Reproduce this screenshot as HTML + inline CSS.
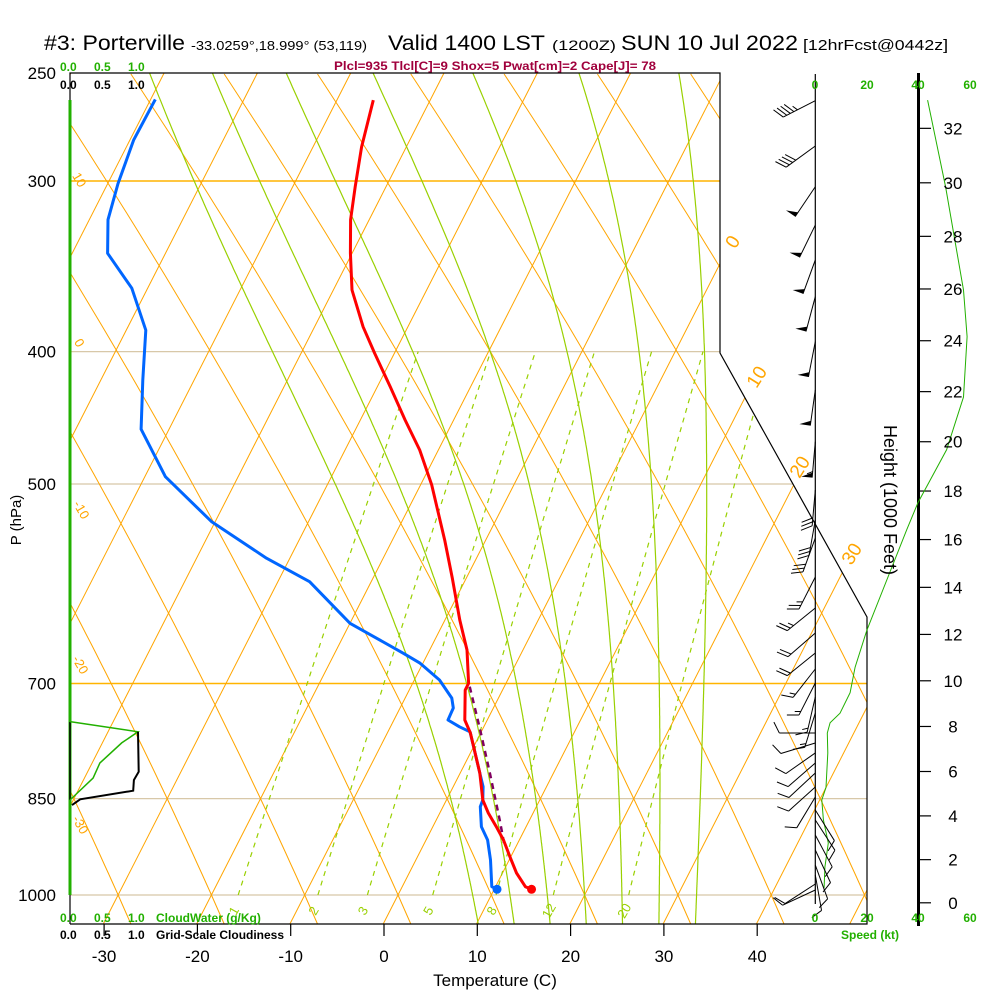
<!DOCTYPE html>
<html><head><meta charset="utf-8"><style>
html,body{margin:0;padding:0;background:#fff}
svg{display:block;font-family:"Liberation Sans",sans-serif}
</style></head><body>
<svg id="chart" width="1000" height="1000" viewBox="0 0 1000 1000" xmlns="http://www.w3.org/2000/svg">
<defs><clipPath id="plotclip"><polygon points="70,73 720,73 720,353 867,617 867,924 70,924"/></clipPath></defs>
<rect x="0" y="0" width="1000" height="1000" fill="#fff"/>
<g fill="#000">
<text x="44" y="50" font-size="21" textLength="141" lengthAdjust="spacingAndGlyphs">#3: Porterville</text>
<text x="191" y="50" font-size="13" textLength="176" lengthAdjust="spacingAndGlyphs">-33.0259°,18.999° (53,119)</text>
<text x="388" y="50" font-size="21" textLength="157" lengthAdjust="spacingAndGlyphs">Valid 1400 LST</text>
<text x="552" y="50" font-size="14" textLength="64" lengthAdjust="spacingAndGlyphs">(1200Z)</text>
<text x="621" y="50" font-size="21" textLength="177" lengthAdjust="spacingAndGlyphs">SUN 10 Jul 2022</text>
<text x="803" y="50" font-size="15" textLength="145" lengthAdjust="spacingAndGlyphs">[12hrFcst@0442z]</text>
</g>
<text x="334" y="70" font-size="12" font-weight="bold" fill="#a0003c" textLength="322" lengthAdjust="spacingAndGlyphs">Plcl=935 Tlcl[C]=9 Shox=5 Pwat[cm]=2 Cape[J]= 78</text>
<g id="grid" clip-path="url(#plotclip)"></g>
<g id="frame"></g>
<g id="data"></g>
<g id="labels"></g>
</svg>
<script>
// ---- chart data ----
const tempP=[261.7,283.2,302.9,320.2,338.7,360.5,383.6,401.2,424.5,448.9,472.2,500.8,549.6,586,629,661.6,699.8,707.8,744.5,760.9,787,814,852,870.9,891.2,911.4,937.4,963.6,986.1,990.4];
const tempT=[-46.1,-44.8,-43.3,-42.0,-40.2,-38.0,-34.8,-32.1,-28.6,-25.2,-22.0,-18.8,-14.4,-11.5,-8.4,-6.0,-4.0,-4.0,-2.4,-1.1,0.5,2.1,3.9,5.2,6.8,8.3,9.9,11.5,13.2,14.0];
const dewP=[261.4,279.9,301.3,320.2,338.9,359.4,385.8,419.6,455.9,493.9,532.8,566.7,589.6,632.4,665.4,676.4,695.9,717.5,729.5,744.5,753.0,759.4,778.7,805.5,833.1,852.0,861.7,891.2,911.4,942.7,986.1,990.4];
const dewT=[-69.5,-69.6,-68.9,-68.0,-66.2,-61.7,-57.9,-55.5,-53.0,-47.8,-40.4,-32.5,-26.6,-20.0,-12.6,-10.3,-7.3,-5.0,-4.3,-4.2,-2.6,-1.2,0.0,1.6,3.2,3.9,4.0,5.2,6.6,8.0,9.6,10.3];
const parcelP=[703.8,757.3,814.5,881.2,921.8];
const parcelT=[-3.7,-0.2,3.2,6.8,8.8];
const windP=[262,282.8,302.9,323.1,342.7,364.6,393.3,426.7,465.6,505.1,531.3,547.7,584.9,616.3,642.9,664.9,683.1,699.4,716.1,735.7,760.9,773.9,787.0,800.4,814.0,833.5,847.6,866.5,881.2,903.8,926.9,950.7,966.8,981.6,991.6];
const windDir=[243,234,214,206,200,195,191,188,185,185,190,200,207,231,229,231,218,207,193,197,270,253,235,229,227,228,211,148,147,152,155,160,170,237,245];
const windSpd=[45,40,50,50,50,50,50,50,55,30,30,30,25,25,20,20,15,15,15,15,10,10,10,10,10,10,10,10,10,10,10,10,10,10,10];
const speedP=[261.7,303,360.5,390,431.8,472,516,540,640,681,711,736,748,761,787,834,852,881,916,954,988];
const speedKt=[43.2,50.1,57.0,58.4,57.0,50.5,39.5,35.2,19.8,15.3,13.4,9.5,5.7,4.6,4.8,4.1,2.5,3.1,5.0,3.7,3.4];
const cloudP=[759.4,812.2,823.7,838.7,851,859.3];
const cloudFrac=[1.0,1.01,0.94,0.93,0.15,0.03];
const cwP=[746.4,759.4,773.7,800.4,820.9,852];
const cwVal=[0,1.0,0.76,0.44,0.34,0];
const pressTicks=[250,300,400,500,700,850,1000];
const tempTicks=[-30,-20,-10,0,10,20,30,40];
const heightTicks=[0,2,4,6,8,10,12,14,16,18,20,22,24,26,28,30,32];
const mixRatios=[1,2,3,5,8,12,20];
const moistThetaW=[8,12,16,20,24,28,32];

const NS="http://www.w3.org/2000/svg";
const Y=p=>895-593*Math.log(1000/p);
const X=(T,p)=>398+9.33*T+0.51*(895-Y(p));
const SX=k=>815.3+2.6*k;
const CX=v=>70+68*v;
function el(tag,attrs,parent){const e=document.createElementNS(NS,tag);for(const k in attrs)e.setAttribute(k,attrs[k]);parent.appendChild(e);return e;}
const grid=document.getElementById('grid'),frame=document.getElementById('frame'),data=document.getElementById('data'),labels=document.getElementById('labels');
function pl(pts){return pts.map(p=>p[0].toFixed(1)+','+p[1].toFixed(1)).join(' ');}

pressTicks.forEach(p=>{const y=Y(p);
 const hl=el('line',{x1:70,x2:900,y1:y,y2:y,stroke:(p==300||p==700)?'#ffb400':'#d8c8a8','stroke-width':(p==300||p==700)?1.5:1.2},grid);
 
 
 const t=el('text',{x:56,y:y+6,'font-size':17,'text-anchor':'end',fill:'#000'},labels);t.textContent=p;
 
 
});
for(let T=-140;T<=60;T+=10){const x1=398+9.33*T+0.51*(-29),x2=398+9.33*T+0.51*822;
 const l=el('line',{x1:x1,y1:924,x2:x2,y2:73,stroke:'#ffa500','stroke-width':1},grid);
 
 }
for(let n=-5;n<=14;n++){const x0=398+93.3*n;const pts=[];
 for(let u=-29;u<=822;u+=10){pts.push([x0-(0.4467*u+1.29e-4*u*u),895-u]);}
 const l=el('polyline',{points:pl(pts),fill:'none',stroke:'#ffa500','stroke-width':1},grid);
 
 }
function dTdp(T,p){const Tc=T-273.15;const es=6.112*Math.exp(17.67*Tc/(Tc+243.5));const rs=0.622*es/(p-es);
 return (287*T+2.5e6*rs)/(p*(1004+2.5e6*2.5e6*rs*0.622/(287*T*T)));}
moistThetaW.forEach(tw=>{const up=[];let T=tw+273.15;for(let p=1000;p>=245;p-=2){up.push([X(T-273.15,p),Y(p)]);T-=2*dTdp(T,p);}
 const dn=[];T=tw+273.15;for(let p=1000;p<=1060;p+=2){dn.push([X(T-273.15,p),Y(p)]);T+=2*dTdp(T,p);}
 const pts=dn.reverse().concat(up);
 const l=el('polyline',{points:pl(pts),fill:'none',stroke:'#99d000','stroke-width':1.2},grid);
 
 });
mixRatios.forEach(r=>{const pts=[];for(let p=1000;p>=400;p-=10){const rr=r/1000;const e=rr*p/(0.622+rr);const L=Math.log(e/6.112);const Td=243.5*L/(17.67-L);pts.push([X(Td,p),Y(p)]);}
 const l=el('polyline',{points:pl(pts),fill:'none',stroke:'#99d000','stroke-width':1.2,'stroke-dasharray':'5,5'},grid);
 
 
 const e0=r/1000*1000/(0.622+r/1000);const L0=Math.log(e0/6.112);const Td0=243.5*L0/(17.67-L0);
 const lx=X(Td0,1000)-4;const t=el('text',{x:lx,y:915,'font-size':13,fill:'#99d000',transform:'rotate(-60 '+lx+' 911)','text-anchor':'middle'},labels);t.textContent=r;
 
 });

const fr=el('polyline',{points:'70,924 70,73 720,73 720,353 867,617 867,924 70,924',fill:'none',stroke:'#000','stroke-width':1.2},frame);


const gl=el('line',{x1:70,y1:100,x2:70,y2:895,stroke:'#22b000','stroke-width':3},frame);


el('line',{x1:70,y1:722,x2:70,y2:800,stroke:'#000','stroke-width':1.5},frame);
const wa=el('line',{x1:815.3,y1:74,x2:815.3,y2:904,stroke:'#000','stroke-width':1.2},frame);


const ha=el('line',{x1:918.5,y1:73,x2:918.5,y2:926,stroke:'#000','stroke-width':3},frame);


tempTicks.forEach(T=>{const x=384+9.33*T;el('line',{x1:x,y1:924,x2:x,y2:936,stroke:'#000','stroke-width':1.2},frame);
 const t=el('text',{x:x,y:962,'font-size':17,'text-anchor':'middle',fill:'#000'},labels);t.textContent=T;
 
 });
heightTicks.forEach(h=>{const p=1013.25*Math.pow(1-6.8756e-6*h*1000,5.2559);const y=Y(p);
 el('line',{x1:918,y1:y,x2:931,y2:y,stroke:'#000','stroke-width':1.2},frame);
 const t=el('text',{x:953,y:y+6,'font-size':17,'text-anchor':'middle',fill:'#000'},labels);t.textContent=h;
 
 });

function poly(P,V,fx,attrs,name){const pts=P.map((p,i)=>[fx(V[i]),Y(p)]);const l=el('polyline',Object.assign({points:pl(pts),fill:'none'},attrs),data);
 
 return l;}
poly(cwP,cwVal,CX,{stroke:'#22b000','stroke-width':1.5},'cloud-water-profile');
poly(cloudP,cloudFrac,CX,{stroke:'#000','stroke-width':2},'cloudiness-profile');
poly(speedP,speedKt,SX,{stroke:'#22b000','stroke-width':1},'wind-speed-profile');
function sounding(P,T,attrs,name){const pts=P.map((p,i)=>[X(T[i],p),Y(p)]);const l=el('polyline',Object.assign({points:pl(pts),fill:'none','stroke-linejoin':'round'},attrs),data);
 
 return pts;}
sounding(parcelP,parcelT,{stroke:'#800060','stroke-width':2.5,'stroke-dasharray':'6,5'},'parcel-path');
const dp=sounding(dewP,dewT,{stroke:'#0066ff','stroke-width':3},'dewpoint-line');
const tp=sounding(tempP,tempT,{stroke:'#ff0000','stroke-width':3},'temperature-line');
const dd=el('circle',{cx:dp[dp.length-1][0],cy:dp[dp.length-1][1],r:4.5,fill:'#0066ff'},data);


const td=el('circle',{cx:tp[tp.length-1][0],cy:tp[tp.length-1][1],r:4.5,fill:'#ff0000'},data);



windP.forEach((p,i)=>{const g=el('g',{},data);
 
 
 const a=windDir[i]*Math.PI/180;const ux=Math.sin(a),uy=-Math.cos(a);const bx=815.3,by=Y(p);const L=36;
 const tx=bx+L*ux,ty=by+L*uy;
 el('line',{x1:bx,y1:by,x2:tx,y2:ty,stroke:'#000','stroke-width':1},g);
 const px=-uy,py=ux;let s=windSpd[i];let d=0;
 const fx=(0.9*px+0.45*ux),fy=(0.9*py+0.45*uy);
 while(s>=50){const x0=tx-d*ux,y0=ty-d*uy;const x1=tx-(d+5)*ux,y1=ty-(d+5)*uy;
  el('polygon',{points:pl([[x0,y0],[x0+11*px,y0+11*py],[x1,y1]]),fill:'#000'},g);d+=6;s-=50;}
 while(s>=10){const x0=tx-d*ux,y0=ty-d*uy;el('line',{x1:x0,y1:y0,x2:x0+12*fx,y2:y0+12*fy,stroke:'#000','stroke-width':1},g);d+=4;s-=10;}
 if(s>=5){const x0=tx-d*ux,y0=ty-d*uy;el('line',{x1:x0,y1:y0,x2:x0+6*fx,y2:y0+6*fy,stroke:'#000','stroke-width':1},g);}
});

function txt(s,x,y,size,fill,extra,name){const t=el('text',Object.assign({x:x,y:y,'font-size':size,fill:fill},extra||{}),labels);t.textContent=s;
 
 return t;}
[['0.0',60],['0.5',94],['1.0',128]].forEach(v=>{
 txt(v[0],v[1],71,12,'#22b000',{'font-weight':'bold'},'cloudwater-scale-top');
 txt(v[0],v[1],89,12,'#000',{'font-weight':'bold'},'cloudiness-scale-top');
 txt(v[0],v[1],922,12,'#22b000',{'font-weight':'bold'},'cloudwater-scale-bottom');
 txt(v[0],v[1],939,12,'#000',{'font-weight':'bold'},'cloudiness-scale-bottom');});
txt('CloudWater (g/Kg)',156,922,12,'#22b000',{'font-weight':'bold'},'cloudwater-legend');
txt('Grid-Scale Cloudiness',156,939,12,'#000',{'font-weight':'bold'},'cloudiness-legend');
[[0,815],[20,867],[40,918],[60,970]].forEach(v=>{txt(v[0],v[1],89,12,'#22b000',{'font-weight':'bold','text-anchor':'middle'},'speed-scale-top');
 txt(v[0],v[1],922,12,'#22b000',{'font-weight':'bold','text-anchor':'middle'},'speed-scale-bottom');});
txt('Speed (kt)',870,939,12,'#22b000',{'font-weight':'bold','text-anchor':'middle'},'speed-axis-title');
txt('Temperature (C)',495,986,17,'#000',{'text-anchor':'middle'},'x-axis-title');
txt('P (hPa)',21,520,15,'#000',{'text-anchor':'middle',transform:'rotate(-90 21 520)'},'y-axis-title');
txt('Height (1000 Feet)',884,500,18,'#000',{'text-anchor':'middle',transform:'rotate(90 884 500)'},'height-axis-title');
[['0',733,248],['10',757,383],['20',800,473],['30',852,560]].forEach(v=>txt(v[0],v[1],v[2],19,'#ffa500',{'text-anchor':'middle',transform:'rotate(-58 '+v[1]+' '+(v[2]-6)+')'},'isotherm-label'));
[['10',79,184],['0',79,347],['-10',81,514],['-20',80,669],['-30',80,829]].forEach(v=>txt(v[0],v[1],v[2],13,'#ffa500',{'text-anchor':'middle',transform:'rotate(60 '+v[1]+' '+(v[2]-4)+')'},'adiabat-label'));
</script>
</body></html>
